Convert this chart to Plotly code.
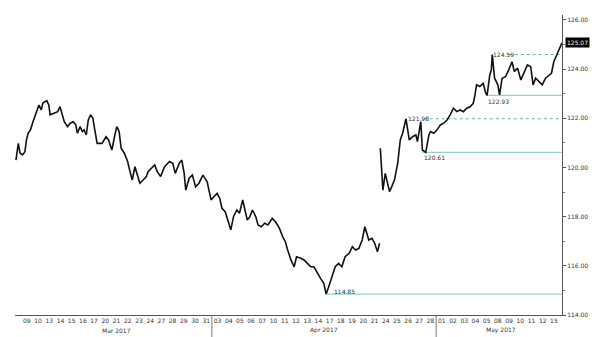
import plotly.graph_objects as go

# trading-day index (0 = 09 Mar 2017) and price, None marks the weekend gap
t = [-0.47, -0.26, -0.11, 0.12, 0.33, 0.47, 0.62, 0.83, 1.05, 1.35, 1.58, 1.79, 1.93, 2.28, 2.46, 2.58,
     2.96, 3.25, 3.46, 3.64, 3.84, 4.13, 4.37, 4.63, 4.87, 5.01, 5.25, 5.45, 5.60, 5.80, 5.98, 6.19,
     6.39, 6.56, 6.77, 7.21, 7.56, 7.79, 8.08, 8.32, 8.52, 8.73, 8.91, 9.20, 9.49, 9.70, 9.90, 10.14,
     10.37, 10.58, 10.87, 11.16, 11.31, 11.60, 11.90, 12.13, 12.43, 12.78, 13.22, 13.51, 13.74, 14.09,
     14.32, 14.53, 14.67, 14.97, 15.26, 15.55, 15.85, 16.20, 16.58, 16.93, 17.22, 17.46, 17.70, 17.90,
     18.19, 18.49, 18.69, 18.93, 19.22, 19.46, 19.75, 19.95, 20.16, 20.39, 20.62, 20.91, 21.12, 21.41,
     21.70, 22.00, 22.38, 22.67, 23.02, 23.32, 23.55, 23.76, 24.05, 24.34, 24.55, 24.93, 25.22, 25.52,
     25.81, 26.10, 26.40, 26.69, 26.98, 27.19, 27.42, 27.71, 28.00, 28.30, 28.59, 28.88, 29.24, 29.53,
     29.82, 30.11, 30.40, 30.64, 30.79, 30.99, 31.28, 31.52, 31.76, 31.96, 31.99,
     32.02, 32.16, 32.25, 32.46, 32.69, 32.84, 33.04, 33.28, 33.57, 33.80, 34.01, 34.31, 34.60, 34.89,
     35.19, 35.33, 35.63, 35.77, 36.07, 36.35, 36.50, 36.79, 37.08, 37.38, 37.67, 37.96, 38.25, 38.54,
     38.84, 39.14, 39.43, 39.72, 40.02, 40.31, 40.46, 40.60, 40.89, 41.19, 41.42, 41.54, 41.78, 41.92,
     42.00, 42.21, 42.50, 42.65, 42.88, 43.18, 43.47, 43.76, 43.97, 44.26, 44.55, 44.85, 45.14, 45.43,
     45.64, 45.87, 46.17, 46.46, 46.75, 47.05, 47.28, 47.49, 47.69, 47.93, 48.09, 48.22]
price = [120.30, 120.98, 120.59, 120.51, 120.64, 121.12, 121.40, 121.53, 121.86, 122.22, 122.54, 122.34,
         122.62, 122.72, 122.54, 122.14, 122.20, 122.27, 122.47, 122.20, 121.86, 121.66, 121.80, 121.86,
         121.73, 121.39, 121.66, 121.46, 121.53, 121.32, 121.93, 122.14, 122.00, 121.53, 120.98, 120.98,
         121.25, 121.12, 120.71, 121.25, 121.66, 121.46, 120.78, 120.58, 120.24, 119.83, 119.49, 120.03,
         119.69, 119.36, 119.49, 119.63, 119.83, 119.97, 120.10, 119.83, 119.63, 120.03, 120.24, 120.17,
         119.76, 120.17, 120.30, 119.76, 119.08, 119.56, 119.69, 119.22, 119.36, 119.69, 119.42, 118.68,
         118.81, 118.95, 118.75, 118.34, 118.20, 117.79, 117.46, 118.00, 118.27, 118.14, 118.68, 118.27,
         117.86, 118.00, 118.27, 118.00, 117.66, 117.59, 117.73, 117.66, 117.93, 117.79, 117.53, 117.18,
         116.98, 116.64, 116.24, 115.96, 116.37, 116.31, 116.24, 116.10, 115.96, 115.96, 115.70, 115.49,
         115.29, 114.85, 115.15, 115.56, 115.96, 116.10, 115.96, 116.37, 116.51, 116.78, 116.64, 116.71,
         117.05, 117.59, 117.39, 117.05, 117.12, 116.92, 116.57, 116.92, None,
         120.78, 119.90, 119.08, 119.76, 119.36, 119.02, 119.22, 119.49, 120.17, 121.12, 121.39, 121.98,
         121.12, 121.25, 121.32, 121.05, 121.86, 120.71, 120.61, 121.32, 121.46, 121.39, 121.53, 121.73,
         121.80, 121.93, 122.14, 122.41, 122.27, 122.34, 122.27, 122.41, 122.47, 122.61, 122.95, 123.36,
         123.29, 123.42, 123.02, 122.93, 123.76, 123.97, 124.59, 123.63, 123.36, 122.95, 123.63, 123.69,
         123.97, 124.30, 123.90, 124.04, 123.56, 123.90, 124.17, 124.10, 123.36, 123.63, 123.49, 123.36,
         123.63, 123.76, 123.83, 124.30, 124.51, 124.78, 124.94, 125.07]

day_labels = ["09", "10", "13", "14", "15", "16", "17", "20", "21", "22", "23", "24", "27", "28", "29", "30", "31",
              "03", "04", "05", "06", "07", "10", "11", "12", "13", "14", "17", "18", "19", "20", "21", "24",
              "25", "26", "27", "28",
              "01", "02", "03", "04", "05", "08", "09", "10", "11", "12", "15"]
month_labels = ["Mar 2017", "Apr 2017", "May 2017"]
month_centres = [8.5, 27.0, 42.75]
month_breaks = [17, 37]

# support / resistance levels: value, starting trading-day index, kind
levels = [114.85, 120.61, 121.98, 122.93, 124.59]
level_start = [27.19, 35.77, 35.90, 41.45, 43.47]
level_kind = ["solid", "solid", "dash", "solid", "dash"]
level_label_x = [27.74, 35.74, 34.33, 41.45, 41.89]
level_label_y = [114.96, 120.40, 121.99, 122.70, 124.60]
last_price = 125.07

FONT = "DejaVu Sans"
TXT = "#333333"

fig = go.Figure()
fig.add_trace(go.Scatter(x=t, y=price, mode="lines", connectgaps=False,
                         line=dict(color="#111111", width=1.6), hoverinfo="skip", showlegend=False))

shapes = []
annotations = []
for lv, x0, kind, lx, ly in zip(levels, level_start, level_kind, level_label_x, level_label_y):
    if kind == "solid":
        line = dict(color="#93d6bf", width=1.2)
    else:
        line = dict(color="#55b891", width=1, dash="3px,3px")
    shapes.append(dict(type="line", xref="x", yref="y", x0=x0, x1=48.22, y0=lv, y1=lv, line=line, layer="below"))
    annotations.append(dict(xref="x", yref="y", x=lx, y=ly, text=f"{lv:.2f}", showarrow=False,
                            xanchor="left", yanchor="middle", font=dict(family=FONT, size=6, color=TXT)))

for mb in month_breaks:
    shapes.append(dict(type="line", xref="x", yref="paper", x0=mb, x1=mb, y0=0, y1=-0.075,
                       line=dict(color="#777777", width=1)))

for ml, mc in zip(month_labels, month_centres):
    annotations.append(dict(xref="x", yref="paper", x=mc, y=-0.05, text=ml, showarrow=False,
                            xanchor="center", yanchor="middle", font=dict(family=FONT, size=6, color=TXT)))

annotations.append(dict(xref="paper", yref="y", x=1, xshift=3, y=last_price, text=f"{last_price:.2f}",
                        showarrow=False, xanchor="left", yanchor="middle", bgcolor="#000000",
                        borderpad=1, font=dict(family=FONT, size=6, color="#ffffff")))

fig.update_layout(
    width=600, height=337,
    margin=dict(l=15, r=30, t=15, b=22),
    paper_bgcolor="white", plot_bgcolor="white",
    font=dict(family=FONT, size=6, color=TXT),
    shapes=shapes, annotations=annotations,
    xaxis=dict(range=[-0.554, 48.22], tickvals=[i + 0.5 for i in range(len(day_labels))], ticktext=day_labels,
               showline=True, linecolor="#555555", linewidth=1, showgrid=False, zeroline=False,
               ticks="", tickfont=dict(family=FONT, size=6, color=TXT), fixedrange=True),
    yaxis=dict(range=[114, 126.2], side="right", tickvals=[114, 116, 118, 120, 122, 124, 126],
               tickformat=".2f", showline=True, linecolor="#555555", linewidth=1, showgrid=False,
               zeroline=False, ticks="outside", ticklen=3, tickcolor="#555555",
               minor=dict(tickvals=[115, 117, 119, 121, 123, 125], ticks="outside", ticklen=2, tickcolor="#777777"),
               tickfont=dict(family=FONT, size=6, color=TXT), fixedrange=True),
)

fig.write_html("out.html")
